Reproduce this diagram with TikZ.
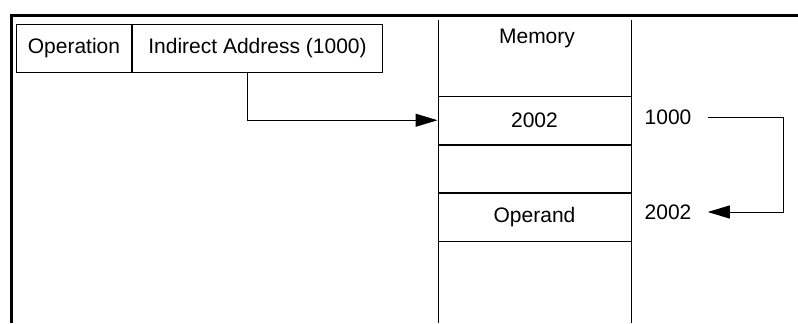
\documentclass[tikz,border=0pt]{standalone}
\usepackage{fontspec}
\setmainfont{Liberation Sans}
\usetikzlibrary{arrows.meta, positioning}
\tikzset{
  >=Triangle,
  flowarrow/.style={-{Triangle[length=11pt, width=6.5pt]}, line width=0.5pt, black},
  fieldbox/.style={draw, line width=0.5pt, inner sep=0pt, minimum height=24pt},
  cellbox/.style={draw, line width=0.5pt, inner sep=0pt, minimum width=96.5pt, minimum height=23.75pt},
  addrlabel/.style={inner xsep=8pt, inner ysep=0pt}
}

\begin{document}
\begin{tikzpicture}[x=0.5pt, y=-0.5pt, font=\fontsize{10.5}{12.6}\selectfont]
    \useasboundingbox (0,0) rectangle (798,323);
    % frame
    \draw[line width=1.5pt] (11,323) -- (11,15) -- (798,15);

    % instruction
    \node (opfield) [fieldbox, minimum width=57.5pt, anchor=north west] at (16,24) {Operation};
    \node (addrfield) [fieldbox, minimum width=125pt, right=0pt of opfield] {Indirect Address (1000)};

    % memory
    \draw[line width=0.5pt] (438,20) -- (438,323);
    \draw[line width=0.5pt] (631,20) -- (631,323);
    \node (memtitle) at (537,38) {Memory};
    \node (cellA) [cellbox, anchor=north] at (534.5,96) {2002};
    \node (cellB) [cellbox, below=0pt of cellA] {};
    \node (cellC) [cellbox, below=0pt of cellB] {Operand};

    \node (lbl1000) [addrlabel] at (668,117) {1000};
    \node (lbl2002) [addrlabel] at (668,212) {2002};
    \coordinate (turn) at (783,117);

    \draw[flowarrow] ([xshift=-5pt]addrfield.south) |- (cellA.west);
    \draw[flowarrow] (lbl1000.east) -- (turn) |- (lbl2002.east);
\end{tikzpicture}
\end{document}
